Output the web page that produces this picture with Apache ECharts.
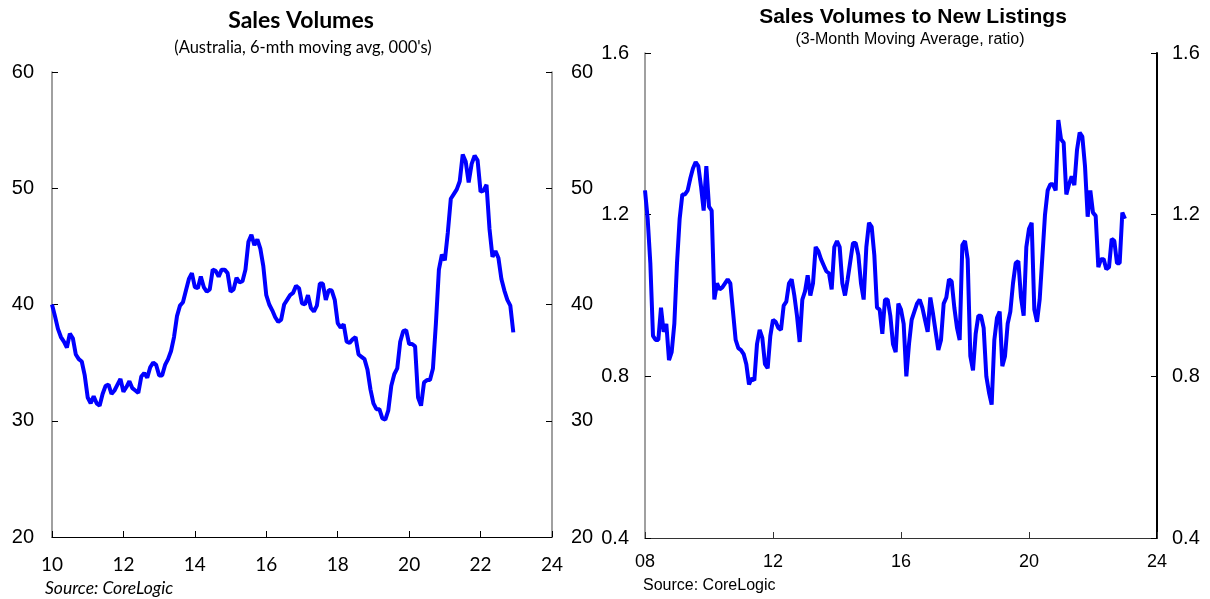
<!DOCTYPE html>
<html><head><meta charset="utf-8">
<script src="https://cdn.jsdelivr.net/npm/echarts@6/dist/echarts.min.js"></script>
<style>html,body{margin:0;padding:0;background:#fff}#c{width:1210px;height:599px}</style>
</head><body><div id="c"></div>
<script>
// Left chart: Sales volumes, monthly from Jan 2010 (000's)
const salesStartYear = 2010;
const salesValues = [
40.0,39.0,37.9,37.2,36.8,36.3,37.5,37.1,35.7,35.3,35.1,33.9,
32.0,31.5,32.1,31.5,31.3,32.3,33.0,33.1,32.3,32.6,33.1,33.6,
32.5,32.9,33.4,32.8,32.6,32.4,33.8,34.1,33.7,34.6,35.0,34.8,
33.9,33.9,34.8,35.3,36.0,37.2,39.0,39.9,40.2,41.2,42.2,42.7,
41.5,41.4,42.4,41.5,41.1,41.3,43.0,42.9,42.4,43.0,43.0,42.7,
41.1,41.3,42.3,41.9,42.0,43.0,45.4,46.0,45.1,45.6,44.8,43.3,
40.8,40.0,39.5,38.9,38.5,38.7,40.0,40.4,40.8,41.0,41.6,41.4,
40.1,40.0,40.8,39.7,39.4,39.9,41.8,41.8,40.4,41.25,41.2,40.4,
38.4,38.0,38.3,36.8,36.7,37.0,37.2,35.7,35.5,35.3,34.4,32.7,
31.5,31.0,31.0,30.2,30.1,30.9,33.0,34.0,34.5,36.8,37.7,37.8,
36.6,36.6,36.4,32.0,31.3,33.3,33.5,33.5,34.5,38.4,43.0,44.3,
43.8,46.2,49.1,49.5,49.9,50.6,52.9,52.3,50.5,52.1,52.8,52.4,
49.7,49.8,50.3,46.5,44.1,44.6,44.0,42.2,41.2,40.4,39.9,37.6
];
const salesYTicks = [20, 30, 40, 50, 60];

// Right chart: Sales volumes to new listings ratio, monthly from Jan 2008
const ratioStartYear = 2008;
const ratioValues = [
1.26,1.19,1.08,0.90,0.89,0.89,0.97,0.91,0.93,0.84,0.86,0.93,
1.08,1.19,1.25,1.25,1.26,1.29,1.315,1.33,1.32,1.27,1.21,1.32,
1.22,1.21,0.99,1.03,1.015,1.02,1.03,1.04,1.03,0.96,0.89,0.87,
0.865,0.855,0.83,0.78,0.795,0.79,0.88,0.915,0.895,0.83,0.82,0.90,
0.94,0.935,0.92,0.915,0.975,0.985,1.03,1.04,1.00,0.95,0.885,0.99,
1.01,1.05,1.00,1.03,1.12,1.11,1.09,1.075,1.06,1.055,1.015,1.12,
1.135,1.12,1.03,1.00,1.04,1.085,1.13,1.13,1.10,1.03,0.99,1.12,
1.18,1.17,1.10,0.97,0.965,0.905,0.99,0.99,0.95,0.88,0.86,0.98,
0.965,0.93,0.80,0.88,0.94,0.96,0.98,0.99,0.97,0.94,0.91,0.995,
0.955,0.91,0.865,0.89,0.98,0.995,1.04,1.035,0.97,0.92,0.89,1.125,
1.135,1.09,0.85,0.815,0.905,0.95,0.95,0.92,0.80,0.76,0.73,0.89,
0.945,0.96,0.825,0.85,0.93,0.96,1.03,1.08,1.085,0.995,0.95,1.12,
1.165,1.18,0.965,0.935,0.99,1.095,1.20,1.26,1.275,1.275,1.26,1.434,
1.387,1.378,1.25,1.275,1.295,1.273,1.36,1.403,1.393,1.32,1.195,1.26,
1.205,1.197,1.07,1.09,1.09,1.065,1.07,1.14,1.135,1.08,1.08,1.205,
1.19
];
const ratioYTicks = [0.4, 0.8, 1.2, 1.6];

const salesData = salesValues.map((v, i) => [salesStartYear + i / 12, v]);
const ratioData = ratioValues.map((v, i) => [ratioStartYear + i / 12, v]);

const yy = v => String(Math.round(v) % 100).padStart(2, '0');
const armo = 'Liberation Sans, Arial, sans-serif';
const cal = 'Lato, Carlito, sans-serif';

function yAxis(grid, pos, min, max, interval, lineColor, lineWidth, labelSize, margin, fmt) {
  return {
    type: 'value', gridIndex: grid, position: pos, min, max, interval,
    axisLine: {show: true, lineStyle: {color: lineColor, width: lineWidth}},
    axisTick: {show: true, inside: true, length: 6, lineStyle: {color: '#000', width: 1}},
    axisLabel: {show: true, color: '#000', fontFamily: armo, fontSize: labelSize, margin, formatter: fmt},
    splitLine: {show: false}
  };
}

const chart = echarts.init(document.getElementById('c'), null, {renderer: 'canvas'});
chart.setOption({
  animation: false,
  backgroundColor: '#fff',
  grid: [
    {left: 52, right: 658, top: 72, bottom: 62},
    {left: 645, right: 53, top: 53, bottom: 61}
  ],
  xAxis: [
    {type: 'value', gridIndex: 0, min: 2010, max: 2024, interval: 2,
     axisLine: {show: true, lineStyle: {color: '#000', width: 1}},
     axisTick: {show: true, inside: true, length: 6, lineStyle: {color: '#000'}},
     axisLabel: {color: '#000', fontFamily: cal, fontSize: 19, margin: 18, formatter: yy},
     splitLine: {show: false}},
    {type: 'value', gridIndex: 1, min: 2008, max: 2024, interval: 4,
     axisLine: {show: true, lineStyle: {color: '#333', width: 1}},
     axisTick: {show: true, inside: true, length: 6, lineStyle: {color: '#333'}},
     axisLabel: {color: '#000', fontFamily: armo, fontSize: 18, margin: 15, formatter: yy},
     splitLine: {show: false}}
  ],
  yAxis: [
    yAxis(0, 'left', 20, 60, 10, '#808080', 1.5, 20, 18, v => String(v)),
    yAxis(0, 'right', 20, 60, 10, '#808080', 1.5, 20, 19, v => String(v)),
    yAxis(1, 'left', 0.4, 1.6, 0.4, '#808080', 1.5, 20, 16, v => v.toFixed(1)),
    yAxis(1, 'right', 0.4, 1.6, 0.4, '#000', 2, 20, 15, v => v.toFixed(1))
  ],
  series: [
    {type: 'line', xAxisIndex: 0, yAxisIndex: 0, data: salesData, showSymbol: false,
     lineStyle: {color: '#0000ff', width: 4}, itemStyle: {color: '#0000ff'}},
    {type: 'line', xAxisIndex: 1, yAxisIndex: 2, data: ratioData, showSymbol: false,
     lineStyle: {color: '#0000ff', width: 4}, itemStyle: {color: '#0000ff'}}
  ],
  graphic: [
    {type: 'text', x: 301, y: 21, style: {text: 'Sales Volumes', align: 'center', verticalAlign: 'middle', textAlign: 'center', textVerticalAlign: 'middle', fontFamily: cal, fontWeight: 'bold', fontSize: 23, fill: '#000'}},
    {type: 'text', x: 303, y: 48, style: {text: "(Australia, 6-mth moving avg, 000's)", align: 'center', verticalAlign: 'middle', textAlign: 'center', textVerticalAlign: 'middle', fontFamily: cal, fontSize: 16.5, fill: '#000'}},
    {type: 'text', x: 45, y: 588, style: {text: 'Source: CoreLogic', align: 'left', verticalAlign: 'middle', textAlign: 'left', textVerticalAlign: 'middle', fontFamily: cal, fontStyle: 'italic', fontSize: 17.5, fill: '#000'}},
    {type: 'text', x: 913, y: 17, style: {text: 'Sales Volumes to New Listings', align: 'center', verticalAlign: 'middle', textAlign: 'center', textVerticalAlign: 'middle', fontFamily: armo, fontWeight: 'bold', fontSize: 21, fill: '#000'}},
    {type: 'text', x: 910, y: 40, style: {text: '(3-Month Moving Average, ratio)', align: 'center', verticalAlign: 'middle', textAlign: 'center', textVerticalAlign: 'middle', fontFamily: armo, fontSize: 16, fill: '#000'}},
    {type: 'text', x: 643, y: 586, style: {text: 'Source: CoreLogic', align: 'left', verticalAlign: 'middle', textAlign: 'left', textVerticalAlign: 'middle', fontFamily: armo, fontSize: 16, fill: '#000'}}
  ]
});
</script></body></html>
